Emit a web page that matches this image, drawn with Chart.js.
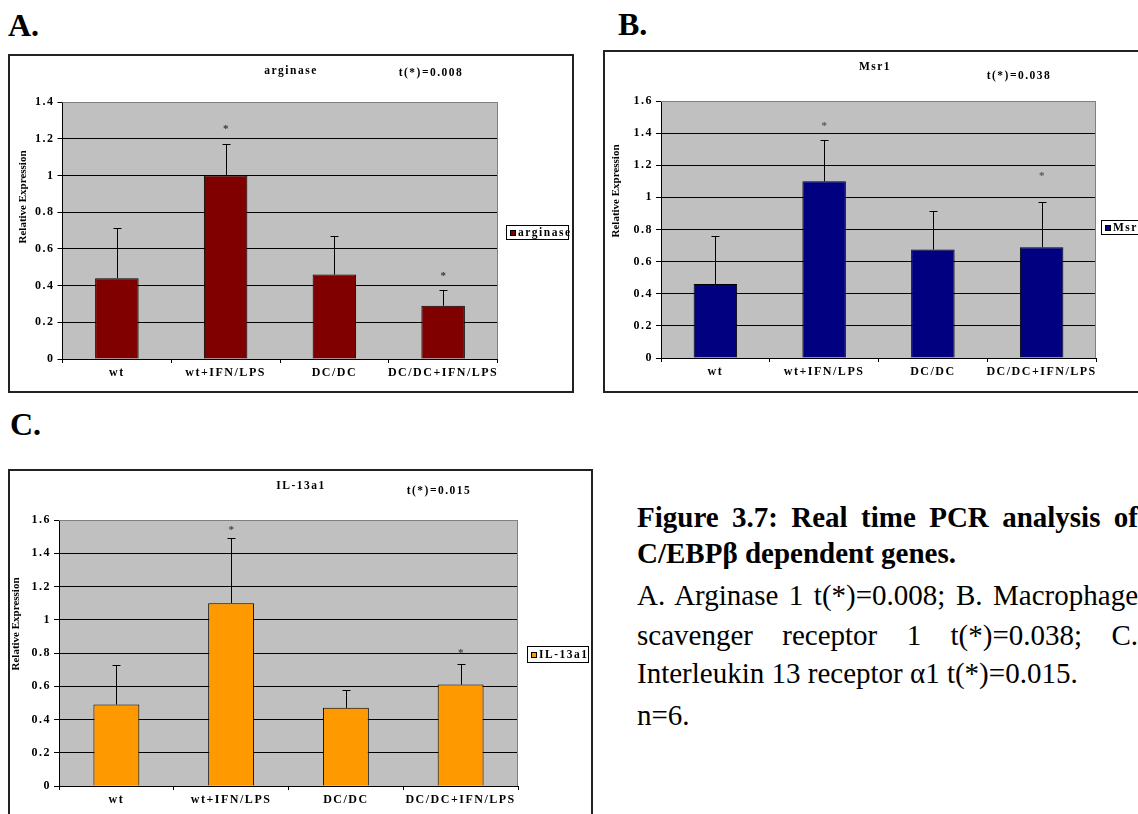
<!DOCTYPE html>
<html>
<head>
<meta charset="utf-8">
<title>Real time PCR analysis of C/EBPβ dependent genes</title>
<script src="https://cdn.jsdelivr.net/npm/chart.js@4.4.1/dist/chart.umd.min.js"></script>
<style>
  html, body { margin: 0; padding: 0; background: #fff; }
  body {
    width: 1138px; height: 814px; overflow: hidden; position: relative;
    font-family: "Liberation Serif", "Times New Roman", serif; color: #000;
  }
  .panel-label { position: absolute; font-weight: bold; font-size: 32px; line-height: 32px; }
  .frame { position: absolute; border: 2px solid #222; background: #fff; }
  .frame canvas { display: block; }
  .cap { position: absolute; left: 637px; width: 501px; font-size: 29px; line-height: 36px; white-space: nowrap; }
  .cap.just { text-align: justify; text-align-last: justify; white-space: normal; }
  .cap.bold { font-weight: bold; }
</style>
</head>
<body>

<div class="panel-label" style="left:8px; top:9px;">A.</div>
<div class="panel-label" style="left:618px; top:8px;">B.</div>
<div class="panel-label" style="left:10px; top:408px;">C.</div>

<div class="frame" style="left:8px; top:54px;"><canvas id="chartA" width="562" height="335"></canvas></div>
<div class="frame" style="left:603px; top:50px;"><canvas id="chartB" width="543" height="339"></canvas></div>
<div class="frame" style="left:8px; top:469px;"><canvas id="chartC" width="581" height="348"></canvas></div>

<div class="cap bold just" style="top:499px;">Figure 3.7: Real time PCR analysis of</div>
<div class="cap bold" style="top:535px;">C/EBPβ dependent genes.</div>
<div class="cap just" style="top:577px;">A. Arginase 1 t(*)=0.008; B. Macrophage</div>
<div class="cap just" style="top:617px;">scavenger receptor 1 t(*)=0.038; C.</div>
<div class="cap" style="top:655px;">Interleukin 13 receptor α1 t(*)=0.015.</div>
<div class="cap" style="top:697px;">n=6.</div>

<script>
// groups on the x axis (same for all three genes)
const groups = ['wt', 'wt+IFN/LPS', 'DC/DC', 'DC/DC+IFN/LPS'];

// A. arginase
const arginaseMean = [0.44, 1.00, 0.46, 0.29];
const arginaseSD = [0.275, 0.17, 0.21, 0.085];
const arginaseStars = [null, 1.27, null, 0.47];

// B. Msr1
const msr1Mean = [0.46, 1.10, 0.675, 0.69];
const msr1SD = [0.30, 0.26, 0.24, 0.28];
const msr1Stars = [null, 1.46, null, 1.15];

// C. IL-13a1
const il13Mean = [0.49, 1.10, 0.47, 0.61];
const il13SD = [0.235, 0.39, 0.11, 0.125];
const il13Stars = [null, 1.56, null, 0.82];

const yTicks = [0, 0.2, 0.4, 0.6, 0.8, 1, 1.2, 1.4, 1.6];

const serif = '"Liberation Serif", "Times New Roman", serif';
const excelFont = { family: serif, size: 12, weight: 'bold' };

Chart.defaults.font.family = serif;

// grey plot area, error bars, significance stars, text boxes and legend
const excelLook = {
  id: 'excelLook',
  beforeDraw(chart) {
    const { ctx, chartArea: a } = chart;
    ctx.save();
    ctx.fillStyle = '#c0c0c0';
    ctx.fillRect(a.left, a.top, a.right - a.left, a.bottom - a.top);
    ctx.restore();
    // Excel-style spaced lettering for the axis labels
    ctx.letterSpacing = '1.5px';
  },
  afterDatasetsDraw(chart, args, opts) {
    const { ctx, chartArea: a } = chart;
    const y = chart.scales.y;
    const values = chart.data.datasets[0].data;
    const bars = chart.getDatasetMeta(0).data;
    ctx.save();
    ctx.lineWidth = 1;

    ctx.strokeStyle = '#808080';
    ctx.beginPath();
    ctx.moveTo(a.left, Math.round(a.top) + 0.5);
    ctx.lineTo(Math.round(a.right) - 0.5, Math.round(a.top) + 0.5);
    ctx.lineTo(Math.round(a.right) - 0.5, a.bottom);
    ctx.stroke();

    ctx.strokeStyle = '#000';
    bars.forEach((bar, i) => {
      const x = Math.round(bar.x) + 0.5;
      const y0 = y.getPixelForValue(values[i]);
      const y1 = Math.round(y.getPixelForValue(values[i] + opts.sd[i])) + 0.5;
      ctx.beginPath();
      ctx.moveTo(x, y0);
      ctx.lineTo(x, y1);
      ctx.moveTo(x - 4, y1);
      ctx.lineTo(x + 4, y1);
      ctx.stroke();
    });

    ctx.letterSpacing = '0px';
    ctx.fillStyle = opts.starColor;
    ctx.font = 'bold 11px ' + serif;
    ctx.textAlign = 'center';
    ctx.textBaseline = 'alphabetic';
    opts.stars.forEach((v, i) => {
      if (v == null) return;
      ctx.fillText('*', bars[i].x, y.getPixelForValue(v) + 6);
    });
    ctx.restore();
  },
  afterDraw(chart, args, opts) {
    const ctx = chart.ctx;
    ctx.save();
    ctx.fillStyle = '#000';
    ctx.textBaseline = 'middle';
    ctx.textAlign = 'center';
    ctx.letterSpacing = '1.5px';
    ctx.font = 'bold 11.5px ' + serif;
    ctx.fillText(opts.title, opts.titleAt[0], opts.titleAt[1]);
    ctx.fillText(opts.tText, opts.tAt[0], opts.tAt[1]);

    // rotated axis title
    ctx.save();
    ctx.letterSpacing = '0px';
    ctx.font = 'bold 11px ' + serif;
    ctx.translate(opts.yTitleAt[0], opts.yTitleAt[1]);
    ctx.rotate(-Math.PI / 2);
    ctx.fillText('Relative Expression', 0, 0);
    ctx.restore();

    // legend box
    const [lx, ly, lw, lh] = opts.legendBox;
    ctx.fillStyle = '#fff';
    ctx.fillRect(lx, ly, lw, lh);
    ctx.strokeStyle = '#000';
    ctx.lineWidth = 1;
    ctx.strokeRect(lx + 0.5, ly + 0.5, lw - 1, lh - 1);
    const my = Math.round(ly + lh / 2 - 3);
    ctx.fillStyle = chart.data.datasets[0].backgroundColor;
    ctx.fillRect(lx + 4, my, 6, 6);
    ctx.strokeRect(lx + 4.5, my + 0.5, 5, 5);
    ctx.fillStyle = '#000';
    ctx.textAlign = 'left';
    ctx.fillText(chart.data.datasets[0].label, lx + 12, ly + lh / 2 + 1);
    ctx.restore();
  }
};

function drawPanel(id, cfg) {
  const isTop = c => c.tick && c.tick.value >= cfg.max - 1e-9;
  return new Chart(document.getElementById(id), {
    type: 'bar',
    data: {
      labels: groups,
      datasets: [{
        label: cfg.name,
        data: cfg.mean,
        backgroundColor: cfg.color,
        borderColor: '#000',
        borderWidth: 1,
        categoryPercentage: 1,
        barPercentage: 0.4
      }]
    },
    options: {
      responsive: false,
      animation: false,
      events: [],
      layout: { padding: { top: cfg.plot.top, right: cfg.plot.right, left: 0, bottom: 0 } },
      scales: {
        x: {
          grid: { display: true, drawOnChartArea: false, offset: true, color: '#000', tickLength: 4 },
          border: { color: '#000', width: 1 },
          ticks: { color: '#000', font: excelFont, padding: 3, maxRotation: 0, autoSkip: false },
          afterFit: s => { s.height = cfg.plot.axisH; }
        },
        y: {
          min: 0,
          max: cfg.max,
          afterBuildTicks: s => { s.ticks = yTicks.filter(v => v <= cfg.max).map(v => ({ value: v })); },
          ticks: { color: '#000', font: excelFont, padding: 3, callback: v => String(+v.toFixed(1)) },
          grid: { color: c => isTop(c) ? '#808080' : '#000', tickColor: '#000', tickLength: 5 },
          border: { color: '#000', width: 1 },
          afterFit: s => { s.width = cfg.plot.axisW; }
        }
      },
      plugins: {
        legend: { display: false },
        tooltip: { enabled: false },
        excelLook: {
          sd: cfg.sd,
          stars: cfg.stars,
          starColor: cfg.starColor,
          title: cfg.name,
          tText: cfg.tText,
          titleAt: cfg.titleAt,
          tAt: cfg.tAt,
          yTitleAt: cfg.yTitleAt,
          legendBox: cfg.legendBox
        }
      }
    },
    plugins: [excelLook]
  });
}

function drawAll() {
  drawPanel('chartA', {
    name: 'arginase', tText: 't(*)=0.008',
    mean: arginaseMean, sd: arginaseSD, stars: arginaseStars, max: 1.4,
    color: '#800000', starColor: '#333',
    plot: { axisW: 52.5, top: 46, right: 74.5, axisH: 32 },
    titleAt: [281, 15], tAt: [421, 17], yTitleAt: [13, 141],
    legendBox: [496, 169, 63, 15]
  });

  drawPanel('chartB', {
    name: 'Msr1', tText: 't(*)=0.038',
    mean: msr1Mean, sd: msr1SD, stars: msr1Stars, max: 1.6,
    color: '#000080', starColor: '#555',
    plot: { axisW: 56, top: 49, right: 52, axisH: 33 },
    titleAt: [270, 15], tAt: [414, 24], yTitleAt: [11, 139],
    legendBox: [496, 168, 46, 15]
  });

  drawPanel('chartC', {
    name: 'IL-13a1', tText: 't(*)=0.015',
    mean: il13Mean, sd: il13SD, stars: il13Stars, max: 1.6,
    color: '#ff9900', starColor: '#444',
    plot: { axisW: 49, top: 49, right: 73, axisH: 33 },
    titleAt: [291, 15], tAt: [429, 20], yTitleAt: [6, 153],
    legendBox: [517, 175, 62, 17]
  });
}

// make sure the serif face is ready before the canvases draw text
Promise.all([
  document.fonts.load('bold 12px "Liberation Serif"'),
  document.fonts.load('12px "Liberation Serif"')
]).then(drawAll, drawAll);
</script>
</body>
</html>
